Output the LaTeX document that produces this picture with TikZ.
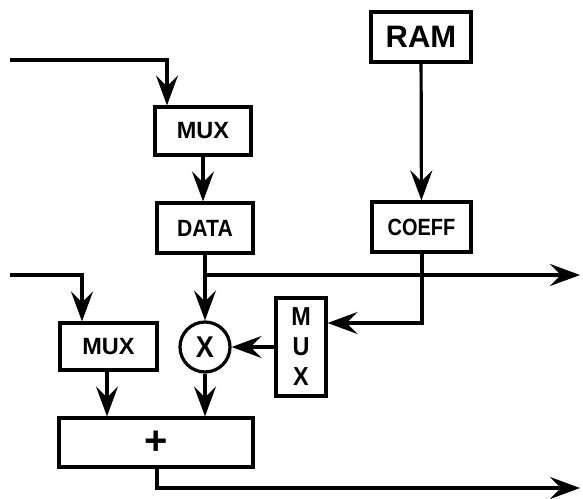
\documentclass[tikz,border=0pt]{standalone}
\usepackage{fontspec}
\setmainfont{Liberation Sans}
\usetikzlibrary{arrows.meta}
\begin{document}
\begin{tikzpicture}[x=1pt,y=-1pt,
  lw/.style={line width=3.2pt},
  blk/.style={draw,lw,rectangle,inner sep=0pt,font=\bfseries\fontsize{23.5}{23.5}\selectfont},
  arr/.style={lw,-{Stealth[length=30pt,width=22pt,inset=11pt]}}]
\useasboundingbox (0,0) rectangle (583,498);
\node[blk,minimum width=96pt,minimum height=48pt] (mux1) at (203,131) {MUX};
\node[blk,minimum width=96pt,minimum height=50pt] (data) at (205,228) {\scalebox{0.9}[1]{DATA}};
\node[blk,minimum width=100pt,minimum height=50pt,font=\bfseries\fontsize{31}{31}\selectfont] (ram) at (421,37) {RAM};
\node[blk,minimum width=99pt,minimum height=50pt] (coeff) at (421.5,227) {\scalebox{0.85}[1]{COEFF}};
\node[draw,lw,circle,minimum size=50pt,inner sep=0pt,font=\bfseries\fontsize{30}{30}\selectfont] (mul) at (205,347) {\scalebox{0.9}[1]{X}};
\node[blk,minimum width=97pt,minimum height=47pt] (mux2) at (108.5,346.5) {MUX};
\node[blk,minimum width=50pt,minimum height=98pt,font=\bfseries\fontsize{26}{26}\selectfont,align=center] (mux3) at (301,347) {\scalebox{0.9}[1]{M}\\[4pt]\scalebox{0.9}[1]{U}\\[4pt]\scalebox{0.9}[1]{X}};
\node[blk,minimum width=194pt,minimum height=49pt,font=\bfseries\fontsize{40}{40}\selectfont] (plus) at (156,442.5) {+};
\coordinate (in1) at (10,60);
\coordinate (in2) at (10,275);
\coordinate (j1) at (205,275);
\coordinate (out1) at (580,275);
\coordinate (out2) at (580,488);
\draw[arr] (in1) -| ([xshift=-36pt]mux1.north);
\draw[arr] (mux1.south) -- (mux1.south |- data.north);
\draw[arr] (ram) -- (coeff);
\draw[arr] (data.south) -- (mul.north);
\draw[arr] (j1) -- (out1);
\draw[arr] (in2) -| ([xshift=-26.5pt]mux2.north);
\draw[arr] ([xshift=-1.5pt]mux2.south) -- ([xshift=-1.5pt]mux2.south |- plus.north);
\draw[arr] (mul.south) -- (mul.south |- plus.north);
\draw[arr] ([xshift=1pt]plus.south) |- (out2);
\draw[arr] ([xshift=0.5pt]coeff.south) |- ([yshift=24pt]mux3.east);
\draw[arr] (mux3.west) -- (mul.east);
\end{tikzpicture}
\end{document}
